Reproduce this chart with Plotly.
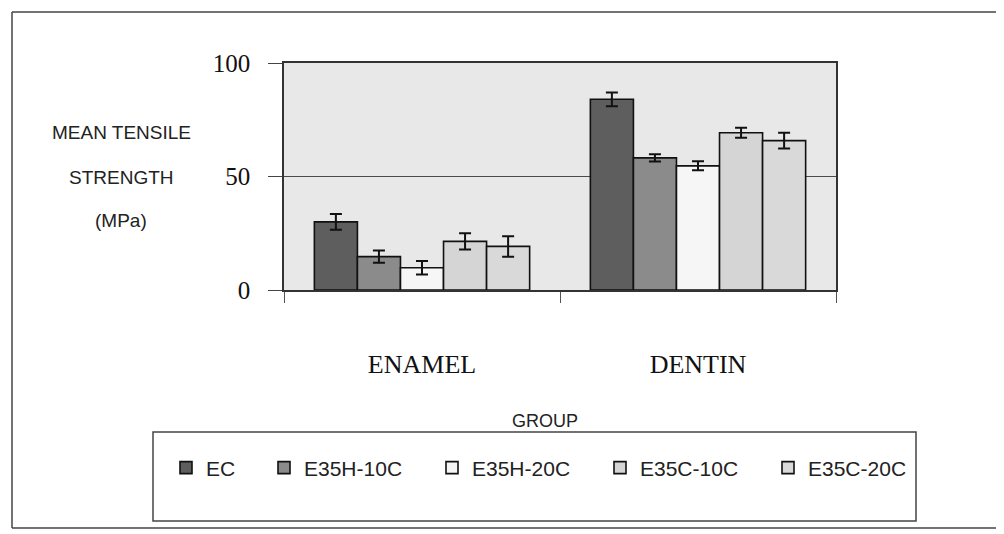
import plotly.graph_objects as go

categories = ["ENAMEL", "DENTIN"]
series_names = ["EC", "E35H-10C", "E35H-20C", "E35C-10C", "E35C-20C"]
means = {
    "EC": [30.0, 84.0],
    "E35H-10C": [14.7, 58.2],
    "E35H-20C": [9.8, 54.7],
    "E35C-10C": [21.4, 69.3],
    "E35C-20C": [19.2, 65.8],
}
errors = {
    "EC": [3.5, 3.0],
    "E35H-10C": [2.7, 1.6],
    "E35H-20C": [3.0, 2.0],
    "E35C-10C": [3.6, 2.2],
    "E35C-20C": [4.5, 3.5],
}
colors = {
    "EC": "#5e5e5e",
    "E35H-10C": "#8b8b8b",
    "E35H-20C": "#f6f6f6",
    "E35C-10C": "#d5d5d5",
    "E35C-20C": "#d9d9d9",
}
y_ticks = [0, 50, 100]
y_title_lines = ["MEAN TENSILE", "STRENGTH", "(MPa)"]

# page geometry (the page body has an 8px margin)
OFF = 8
FW, FH = 996, 526
L, R, T, B = 284, 836, 63, 290   # plot area in page pixels
W, H = R - L, B - T
def px(x):
    return (x - L) / W
def py(y):
    return (B - y) / H

fig = go.Figure()
for name in series_names:
    fig.add_trace(go.Bar(
        x=categories, y=means[name], name=name,
        marker=dict(color=colors[name], line=dict(color="#111111", width=1.6)),
        error_y=dict(type="data", array=errors[name], color="#111111",
                     thickness=2, width=6),
        legend="legend" if name == "EC" else "legend2",
    ))

legend_font = dict(family="Liberation Sans, Arial", size=21, color="#222")
frame = dict(color="#444", width=1.5)
fig.update_layout(
    width=FW, height=FH,
    margin=dict(l=L - OFF, r=FW - (R - OFF), t=T - OFF, b=FH - (B - OFF)),
    paper_bgcolor="white",
    plot_bgcolor="#e8e8e8",
    barmode="group", bargap=0.22, bargroupgap=0,
    showlegend=True,
    legend=dict(orientation="h", x=px(166), xanchor="left", y=py(468), yanchor="middle",
                font=legend_font, bgcolor="rgba(0,0,0,0)"),
    legend2=dict(orientation="h", x=px(264), xanchor="left", y=py(468), yanchor="middle",
                 entrywidth=123, entrywidthmode="pixels",
                 font=legend_font, bgcolor="rgba(0,0,0,0)"),
    xaxis=dict(
        showline=True, linecolor="#333", linewidth=1.5, mirror=True,
        ticks="outside", tickson="boundaries", ticklen=11, tickcolor="#555",
        tickfont=dict(family="Liberation Serif, Times New Roman", size=26, color="#111"),
        ticklabelstandoff=50,
    ),
    yaxis=dict(
        range=[0, 100], tickvals=y_ticks,
        showline=True, linecolor="#333", linewidth=1.5, mirror=True,
        showgrid=True, gridcolor="#4a4a4a", gridwidth=1,
        zeroline=False,
        ticks="outside", ticklen=14, tickcolor="#444",
        tickfont=dict(family="Liberation Serif, Times New Roman", size=25, color="#111"),
        ticklabelstandoff=13,
    ),
    shapes=[
        # outer chart frame (top, left, bottom edges; right edge lies outside the page)
        dict(type="line", xref="paper", yref="paper",
             x0=px(12), x1=px(1004), y0=py(12), y1=py(12), line=frame),
        dict(type="line", xref="paper", yref="paper",
             x0=px(12), x1=px(12), y0=py(12), y1=py(528), line=frame),
        dict(type="line", xref="paper", yref="paper",
             x0=px(12), x1=px(1004), y0=py(528), y1=py(528), line=frame),
        # legend box
        dict(type="rect", xref="paper", yref="paper",
             x0=px(153), x1=px(916), y0=py(521), y1=py(432),
             line=frame, fillcolor="rgba(0,0,0,0)", layer="below"),
    ],
)

for line, yy in zip(y_title_lines, [132, 177, 220]):
    fig.add_annotation(text=line, xref="paper", yref="paper", x=px(121), y=py(yy),
                       showarrow=False, xanchor="center", yanchor="middle",
                       font=dict(family="Liberation Sans, Arial", size=19, color="#222"))
fig.add_annotation(text="GROUP", xref="paper", yref="paper", x=px(545), y=py(421),
                   showarrow=False, xanchor="center", yanchor="middle",
                   font=dict(family="Liberation Sans, Arial", size=18, color="#222"))

fig.write_html("out.html")
